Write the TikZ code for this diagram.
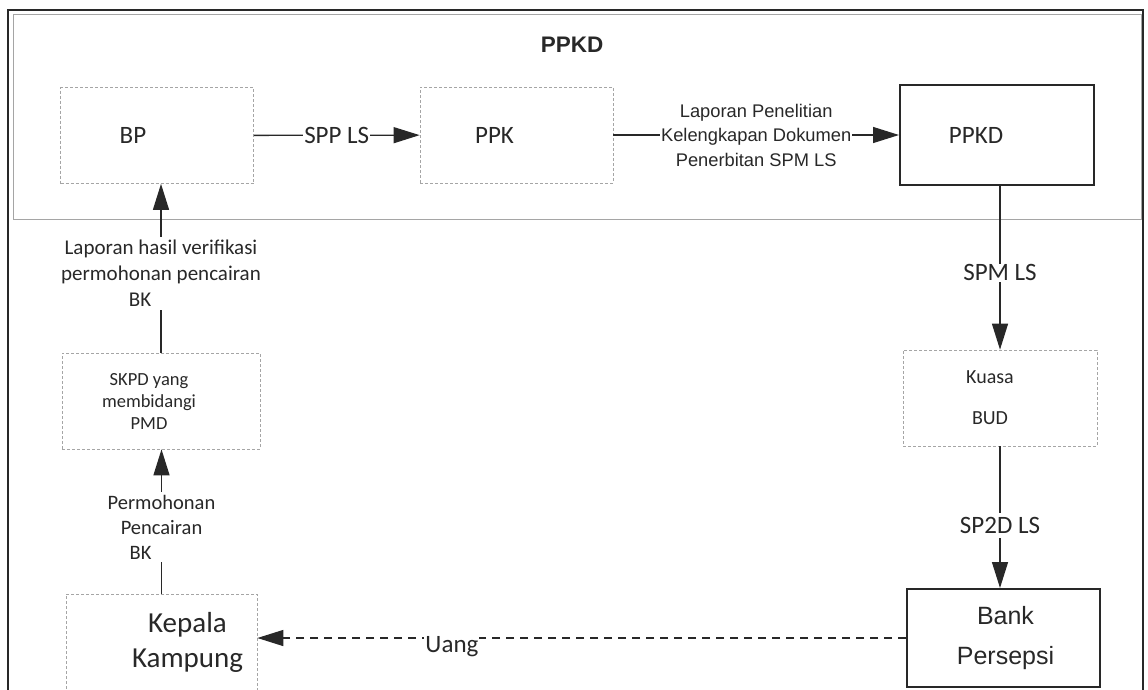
\documentclass[tikz,border=0pt]{standalone}
\usepackage{fontspec}
\setmainfont{Carlito}
\newfontfamily\arialfont{Liberation Sans}
\usetikzlibrary{arrows.meta,positioning}
\definecolor{inkgray}{RGB}{40,40,40}
\definecolor{boxgray}{RGB}{165,165,165}
\newcommand{\fsz}[2]{\fontsize{#1}{#2}\selectfont}
\tikzset{
  frame/.style={draw=inkgray, line width=2pt},
  grp/.style={draw=boxgray, line width=0.8pt},
  lbox/.style={draw=boxgray, densely dashed, line width=0.7pt, minimum width=193pt, minimum height=96pt, inner sep=0pt},
  hbox/.style={draw=inkgray, line width=2pt, minimum width=193pt, minimum height=98pt, inner sep=0pt},
  flow/.style={-{Triangle[length=26pt,width=16pt]}, inkgray, line width=1.3pt},
  money/.style={flow, dash pattern=on 8pt off 6pt},
  lbl/.style={fill=white, inner sep=1pt, text=inkgray, align=center},
  boxtxt/.style={text=inkgray, align=center},
}

\begin{document}
\begin{tikzpicture}[x=1pt,y=-1pt]
\useasboundingbox (0,0) rectangle (1148,689);
% frame and PPKD group
\draw[frame] (8,10) rectangle (1143,700);
\draw[grp] (13,14) rectangle (1141,219);
\node[text=inkgray, font=\arialfont\bfseries\fsz{22.5}{27}] (ttl) at (572,45) {PPKD};
% top row
\node[lbox, label={[boxtxt, xshift=-24pt, font=\fsz{25}{30}]center:BP}] (bp) at (157,135.5) {};
\node[lbox, label={[boxtxt, xshift=-22pt, font=\fsz{25}{30}]center:PPK}] (ppk) at (516.5,135) {};
\node[hbox, minimum width=194pt, minimum height=100pt,
      label={[boxtxt, xshift=-21pt, font=\fsz{25}{30}]center:PPKD}] (ppkd) at (997,135) {};
% right column
\node[lbox, minimum width=194pt,
      label={[boxtxt, xshift=-10pt, font=\fsz{20}{41}]center:{Kuasa\\BUD}}] (kuasa) at (1000,398) {};
\node[hbox, label={[boxtxt, xshift=2pt, font=\arialfont\fsz{25}{40}]center:{Bank\\Persepsi}}] (bank) at (1003.5,638) {};
% left column
\node[lbox, minimum width=198pt,
      label={[boxtxt, xshift=-12pt, font=\fsz{18.5}{22}]center:{SKPD yang\\membidangi\\PMD}}] (skpd) at (161,401) {};
\node[lbox, minimum width=191pt,
      label={[boxtxt, xshift=26pt, font=\fsz{29}{35}]center:{Kepala\\Kampung}}] (kepala) at (161.5,642) {};
% connectors
\draw[flow] (bp) -- node[lbl, font=\fsz{25}{30}] {SPP LS} (ppk);
\draw[flow] (ppk) -- node[lbl, font=\arialfont\fsz{18.3}{24.5}]
  {Laporan Penelitian\\Kelengkapan Dokumen\\Penerbitan SPM LS} (ppkd);
\draw[flow] (ppkd.south -| kuasa.north) -- node[lbl, pos=0.53, font=\fsz{25}{30}] {SPM LS} (kuasa.north);
\draw[flow] (kuasa.south) -- node[lbl, pos=0.56, inner sep=4pt, font=\fsz{25}{30}] {SP2D LS} (kuasa.south |- bank.north);
\draw[money] (bank.west) -- node[lbl, pos=0.7, yshift=-9pt, font=\fsz{25}{30}] {Uang} (kepala.east |- bank.west);
\draw[flow] (kepala.north) -- node[lbl, pos=0.46, inner sep=3pt, font=\fsz{20.5}{25}]
  {Permohonan\\Pencairan\\BK\hspace*{42pt}} (kepala.north |- skpd.south);
\draw[flow] (skpd.north) -- node[lbl, pos=0.47, inner sep=3pt, font=\fsz{21}{26}]
  {Laporan hasil verifikasi\\permohonan pencairan\\BK\hspace*{42pt}} (skpd.north |- bp.south);
\end{tikzpicture}
\end{document}
